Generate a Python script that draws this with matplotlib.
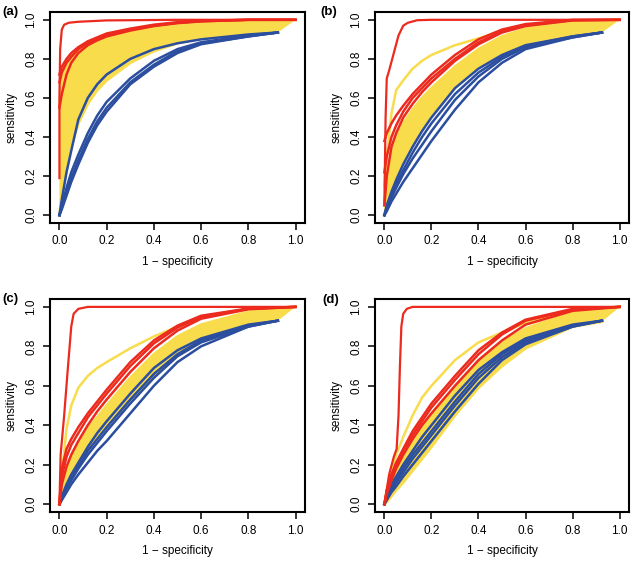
import matplotlib
matplotlib.use('Agg')
import matplotlib.pyplot as plt

plt.rcParams['font.family'] = ['Liberation Sans', 'DejaVu Sans']

# shared false-positive-rate grids (1 - specificity)
fpr = [0, 0.01, 0.03, 0.05, 0.08, 0.12, 0.16, 0.2, 0.3, 0.4, 0.5, 0.6, 0.8, 1.0]
fpr_short = [0, 0.01, 0.03, 0.05, 0.08, 0.12, 0.16, 0.2, 0.3, 0.4, 0.5, 0.6, 0.8, 0.925]

# ---- panel (a)
a_sharp_x = [0, 0, 0.003, 0.01, 0.02, 0.04, 0.08, 0.2, 0.5, 0.985]
a_sharp_y = [0.19, 0.6, 0.85, 0.95, 0.975, 0.985, 0.99, 0.997, 1.0, 1.0]
a_red = [
    [0.72, 0.76, 0.80, 0.83, 0.86, 0.89, 0.91, 0.93, 0.955, 0.975, 0.988, 0.995, 1.0, 1.0],
    [0.68, 0.73, 0.78, 0.81, 0.85, 0.88, 0.90, 0.92, 0.95, 0.97, 0.985, 0.993, 1.0, 1.0],
    [0.55, 0.62, 0.72, 0.78, 0.83, 0.87, 0.895, 0.915, 0.945, 0.968, 0.983, 0.992, 1.0, 1.0],
]
a_blue = [
    [0, 0.08, 0.22, 0.33, 0.49, 0.60, 0.67, 0.72, 0.80, 0.85, 0.88, 0.90, 0.925, 0.935],
    [0, 0.05, 0.14, 0.22, 0.31, 0.42, 0.51, 0.58, 0.70, 0.79, 0.85, 0.885, 0.92, 0.935],
    [0, 0.04, 0.12, 0.19, 0.28, 0.39, 0.48, 0.55, 0.68, 0.77, 0.84, 0.88, 0.915, 0.935],
    [0, 0.03, 0.10, 0.17, 0.26, 0.37, 0.46, 0.53, 0.67, 0.76, 0.83, 0.875, 0.915, 0.935],
]
a_band_hi = [0.55, 0.72, 0.79, 0.82, 0.85, 0.875, 0.895, 0.91, 0.94, 0.96, 0.975, 0.985, 0.995, 1.0]
a_band_lo = [0, 0.10, 0.25, 0.35, 0.47, 0.57, 0.64, 0.69, 0.78, 0.84, 0.88, 0.905, 0.93, 0.935]
a_yellow_extra = []

# ---- panel (b)
b_sharp_x = [0, 0.005, 0.01, 0.02, 0.04, 0.06, 0.08, 0.1, 0.14, 0.2, 0.5, 1.0]
b_sharp_y = [0.06, 0.5, 0.70, 0.74, 0.83, 0.92, 0.97, 0.985, 0.998, 1.0, 1.0, 1.0]
b_red = [
    [0.38, 0.42, 0.47, 0.51, 0.56, 0.62, 0.67, 0.72, 0.82, 0.90, 0.95, 0.978, 1.0, 1.0],
    [0.22, 0.30, 0.40, 0.46, 0.53, 0.60, 0.65, 0.70, 0.80, 0.885, 0.94, 0.972, 0.998, 1.0],
    [0.05, 0.20, 0.35, 0.42, 0.50, 0.57, 0.63, 0.68, 0.79, 0.875, 0.935, 0.968, 0.997, 1.0],
]
b_blue = [
    [0, 0.05, 0.12, 0.18, 0.26, 0.35, 0.43, 0.50, 0.65, 0.75, 0.82, 0.87, 0.915, 0.935],
    [0, 0.04, 0.10, 0.16, 0.23, 0.32, 0.40, 0.47, 0.62, 0.73, 0.81, 0.865, 0.915, 0.935],
    [0, 0.03, 0.09, 0.14, 0.21, 0.29, 0.36, 0.43, 0.59, 0.71, 0.80, 0.86, 0.91, 0.935],
    [0, 0.02, 0.07, 0.11, 0.17, 0.24, 0.31, 0.38, 0.54, 0.68, 0.78, 0.85, 0.91, 0.935],
]
b_band_hi = [0.05, 0.18, 0.33, 0.40, 0.47, 0.54, 0.60, 0.65, 0.76, 0.85, 0.915, 0.955, 0.99, 1.0]
b_band_lo = [0, 0.06, 0.14, 0.20, 0.28, 0.37, 0.45, 0.52, 0.66, 0.76, 0.83, 0.875, 0.92, 0.935]
b_yellow_extra = [
    [0.15, 0.30, 0.52, 0.64, 0.69, 0.75, 0.79, 0.82, 0.87, 0.905, 0.945, 0.972, 0.997, 1.0],
]

# ---- panel (c)
c_sharp_x = [0, 0.005, 0.02, 0.035, 0.05, 0.06, 0.08, 0.12, 0.5, 1.0]
c_sharp_y = [0.0, 0.25, 0.45, 0.68, 0.90, 0.965, 0.99, 1.0, 1.0, 1.0]
c_red = [
    [0.0, 0.18, 0.28, 0.33, 0.39, 0.46, 0.52, 0.58, 0.72, 0.83, 0.905, 0.955, 0.992, 1.0],
    [0.0, 0.14, 0.24, 0.30, 0.36, 0.44, 0.50, 0.56, 0.70, 0.815, 0.895, 0.95, 0.99, 1.0],
    [0.0, 0.10, 0.19, 0.25, 0.32, 0.40, 0.47, 0.53, 0.67, 0.79, 0.88, 0.94, 0.988, 1.0],
]
c_blue = [
    [0, 0.04, 0.10, 0.15, 0.21, 0.29, 0.36, 0.42, 0.56, 0.69, 0.78, 0.84, 0.91, 0.93],
    [0, 0.03, 0.09, 0.13, 0.19, 0.27, 0.33, 0.39, 0.53, 0.66, 0.76, 0.83, 0.905, 0.93],
    [0, 0.03, 0.08, 0.12, 0.18, 0.25, 0.31, 0.37, 0.51, 0.64, 0.75, 0.82, 0.90, 0.93],
    [0, 0.02, 0.06, 0.10, 0.15, 0.21, 0.27, 0.32, 0.46, 0.60, 0.72, 0.80, 0.90, 0.93],
]
c_band_hi = [0, 0.09, 0.17, 0.23, 0.30, 0.38, 0.44, 0.50, 0.64, 0.76, 0.85, 0.91, 0.975, 1.0]
c_band_lo = [0, 0.04, 0.10, 0.15, 0.21, 0.28, 0.34, 0.39, 0.53, 0.65, 0.75, 0.83, 0.91, 0.93]
c_yellow_extra = [
    [0, 0.15, 0.38, 0.50, 0.59, 0.65, 0.69, 0.72, 0.79, 0.85, 0.90, 0.945, 0.99, 1.0],
]

# ---- panel (d)
d_sharp_x = [0, 0.02, 0.04, 0.052, 0.06, 0.066, 0.072, 0.08, 0.095, 0.12, 0.5, 1.0]
d_sharp_y = [0, 0.15, 0.24, 0.28, 0.45, 0.70, 0.90, 0.965, 0.99, 1.0, 1.0, 1.0]
d_red = [
    [0, 0.07, 0.15, 0.21, 0.28, 0.37, 0.44, 0.51, 0.65, 0.78, 0.87, 0.935, 0.99, 1.0],
    [0, 0.06, 0.14, 0.20, 0.27, 0.35, 0.42, 0.49, 0.63, 0.76, 0.86, 0.93, 0.985, 1.0],
    [0, 0.05, 0.12, 0.18, 0.25, 0.33, 0.40, 0.46, 0.60, 0.73, 0.83, 0.91, 0.98, 1.0],
]
d_blue = [
    [0, 0.04, 0.10, 0.14, 0.20, 0.27, 0.34, 0.40, 0.55, 0.68, 0.77, 0.84, 0.91, 0.93],
    [0, 0.03, 0.08, 0.12, 0.18, 0.25, 0.31, 0.37, 0.52, 0.66, 0.76, 0.83, 0.905, 0.93],
    [0, 0.03, 0.07, 0.11, 0.16, 0.23, 0.29, 0.35, 0.50, 0.64, 0.745, 0.82, 0.90, 0.93],
    [0, 0.02, 0.06, 0.09, 0.14, 0.20, 0.26, 0.32, 0.47, 0.61, 0.73, 0.81, 0.90, 0.93],
]
d_band_hi = [0, 0.05, 0.12, 0.17, 0.24, 0.32, 0.39, 0.45, 0.59, 0.72, 0.82, 0.89, 0.975, 1.0]
d_band_lo = [0, 0.01, 0.04, 0.07, 0.11, 0.17, 0.23, 0.29, 0.45, 0.59, 0.70, 0.79, 0.90, 0.925]
d_yellow_extra = [
    [0, 0.07, 0.17, 0.25, 0.34, 0.45, 0.54, 0.60, 0.73, 0.82, 0.87, 0.92, 0.98, 1.0],
]

YELLOW = '#F8DC4C'
RED = '#EC2B1E'
BLUE = '#2B4E9F'
TICKS = [0, 0.2, 0.4, 0.6, 0.8, 1.0]
TICK_LABELS = ['0.0', '0.2', '0.4', '0.6', '0.8', '1.0']


def draw_panel(ax, band_hi, band_lo, yellow_extra, blue, red, sharp_x, sharp_y):
    ax.fill(fpr + fpr_short[::-1], band_hi + band_lo[::-1], color=YELLOW, lw=0)
    ax.plot(fpr, band_hi, color=YELLOW, lw=2, solid_joinstyle='round')
    ax.plot(fpr_short, band_lo, color=YELLOW, lw=2, solid_joinstyle='round')
    for ys in yellow_extra:
        ax.plot(fpr, ys, color=YELLOW, lw=1.8, solid_joinstyle='round')
    for ys in blue:
        ax.plot(fpr_short, ys, color=BLUE, lw=1.8, solid_joinstyle='round')
    for ys in red:
        ax.plot(fpr, ys, color=RED, lw=1.8, solid_joinstyle='round')
    ax.plot(sharp_x, sharp_y, color=RED, lw=1.6, solid_joinstyle='round')

    ax.set_xlim(-0.04, 1.04)
    ax.set_ylim(-0.04, 1.04)
    ax.set_xticks(TICKS)
    ax.set_xticklabels(TICK_LABELS)
    ax.set_yticks(TICKS)
    ax.set_yticklabels(TICK_LABELS, rotation=90, va='center')
    ax.tick_params(direction='out', length=5, width=1.1, labelsize=8.5, pad=4)
    for sp in ax.spines.values():
        sp.set_linewidth(1.5)
    ax.set_xlabel('1 \u2212 specificity', fontsize=8.5, labelpad=6)
    ax.set_ylabel('sensitivity', fontsize=8.5, labelpad=6)


W, H = 637, 563
fig = plt.figure(figsize=(W / 100, H / 100), dpi=100)

panels = [
    ('(a)', (50, 12, 255, 211), (2, 12), a_band_hi, a_band_lo, a_yellow_extra, a_blue, a_red, a_sharp_x, a_sharp_y),
    ('(b)', (375, 12, 254, 211), (320, 12), b_band_hi, b_band_lo, b_yellow_extra, b_blue, b_red, b_sharp_x, b_sharp_y),
    ('(c)', (50, 299, 255, 213), (2, 299), c_band_hi, c_band_lo, c_yellow_extra, c_blue, c_red, c_sharp_x, c_sharp_y),
    ('(d)', (375, 299, 254, 213), (322, 300), d_band_hi, d_band_lo, d_yellow_extra, d_blue, d_red, d_sharp_x, d_sharp_y),
]

for label, (left, top, w, h), (lx, ly), hi, lo, extra, blue, red, sx, sy in panels:
    ax = fig.add_axes([left / W, (H - top - h) / H, w / W, h / H])
    draw_panel(ax, hi, lo, extra, blue, red, sx, sy)
    fig.text(lx / W, 1 - ly / H, label, fontsize=9.5, fontweight='bold', ha='left', va='center')

fig.savefig('out.png', dpi=100)
